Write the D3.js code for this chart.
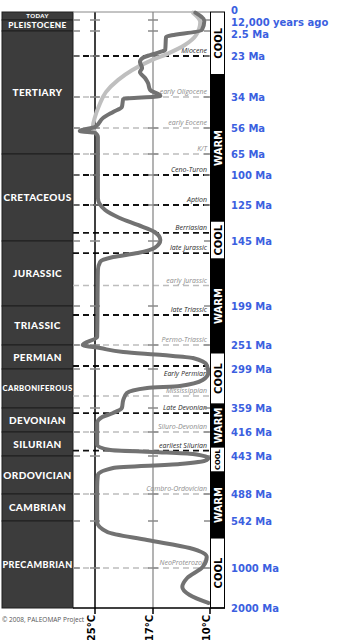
<!DOCTYPE html>
<html><head><meta charset="utf-8">
<script src="https://cdn.jsdelivr.net/npm/d3@7"></script>
<style>body{margin:0;background:#fff}svg{display:block}</style>
</head><body>
<svg id="c" width="353" height="640"></svg>
<script>
// ---------- DATA ----------
const periodNames  = ["TODAY","PLEISTOCENE","TERTIARY","CRETACEOUS","JURASSIC","TRIASSIC","PERMIAN","CARBONIFEROUS","DEVONIAN","SILURIAN","ORDOVICIAN","CAMBRIAN","PRECAMBRIAN"];
const periodStarts = [0,0.012,2.5,65,145,199,251,299,359,416,443,488,542];
const periodEnds   = [0.012,2.5,65,145,199,251,299,359,416,443,488,542,2000];

const ageTicks  = [0,0.012,2.5,23,34,56,65,100,125,145,199,251,299,359,416,443,488,542,1000,2000];
const ageLabels = ["0","12,000 years ago","2.5 Ma","23 Ma","34 Ma","56 Ma","65 Ma","100 Ma","125 Ma","145 Ma","199 Ma","251 Ma","299 Ma","359 Ma","416 Ma","443 Ma","488 Ma","542 Ma","1000 Ma","2000 Ma"];

const eventNames = ["Miocene","early Oligocene","early Eocene","K/T","Ceno-Turon","Aption","Berriasian","late Jurassic","early Jurassic","late Triassic","Permo-Triassic","Early Permian","Mississippian","Late Devonian","Siluro-Devonian","earliest Silurian","Cambro-Ordovician","NeoProterozoic"];
const eventAges  = [23,34,56,65,100,125,140.5,155,182,211,251,293,340.5,371,416,437,488,1000];
const eventMajor = [true,false,false,false,true,true,true,true,false,true,false,true,false,true,false,true,false,false];

const climateStates = ["COOL","WARM","COOL","WARM","COOL","WARM","COOL","WARM","COOL"];
const climateStarts = [0,28,134,160,267,353,433,462,708];
const climateEnds   = [28,134,160,267,353,433,462,708,2000];

const tempTicks  = [25,17,10];
const tempLabels = ["25°C","17°C","10°C"];

// main (dark) curve: age Ma, temperature °C
const mainAges  = [0.001,0.24,2.3,7.4,18.1,19.7,22.2,23.5,24.6,26.2,27.3,28.9,30.2,32.1,33.7,35.4,41.1,44.6,48.9,55.3,57.0,57.7,59.1,70,119.2,127.8,132.2,136.1,140,144.4,150.8,155,158.3,162.4,169.1,240.3,251,257,265,271,277,291,305.2,315.9,325.2,328.2,335.9,346.7,359,370.9,380.4,394.6,430.6,436.3,438.5,440.8,445.4,447.7,452.5,457.2,465.5,479.7,551.7,649.2,727.2,805.1,892.8,990.3,1250,1475,1675,1875];
const mainTemps = [11.8,10.7,11.0,15.4,15.5,16.1,17.4,18.4,18.8,18.5,18.8,18.1,17.7,17.4,16.1,21.1,21.3,22.5,23.9,25.0,27.1,25.0,24.6,24.6,24.6,23.6,21.6,19.1,16.8,16.1,16.8,19.1,22.5,24.3,24.6,24.7,26.7,24.3,21.1,15.8,12.1,10.4,10.2,10.9,13.7,17.8,20.6,21.1,21.3,22.5,24.0,24.7,24.7,22.9,17.0,12.1,10.2,10.4,13.7,22.5,24.6,24.7,24.7,23.3,17.8,12.5,10.4,10.9,12.8,13.4,12.5,10.2];

// light (Cenozoic detail) curve
const lightAges  = [0.001,0.46,5.8,14.0,21.4,24.3,26.8,29.4,32.7,39.7,48.2,55.3,57.4];
const lightTemps = [12.1,11.2,11.7,13.1,15.3,17.4,19.9,21.8,23.5,24.4,25.0,25.3,25.0];

// ---------- LAYOUT ----------
const svg = d3.select("#c");
const colL = 2, colR = 73, barL = 210, barR = 225;
const y = d3.scaleLinear().domain(ageTicks)
  .range([12,20,31,56,97,128,154,175,205,241,306,345,369,408,432,456,494,521,568,608]);
const x = d3.scaleLinear().domain(tempTicks).range([95,153,210]);
const yTop = y(0), yBot = y(2000);

// period column
const pg = svg.append("g");
periodNames.forEach((n,i)=>{
  const y0 = y(periodStarts[i]), y1 = y(periodEnds[i]), h = y1-y0;
  pg.append("rect").attr("x",colL).attr("y",y0).attr("width",colR-colL).attr("height",h)
    .attr("fill","#3c3c3c").attr("stroke","#1e1e1e").attr("stroke-width",1);
  const fs = Math.min(10, h*0.75, 66/(n.length*0.66));
  pg.append("text").attr("x",(colL+colR)/2).attr("y",(y0+y1)/2).attr("dy","0.36em")
    .attr("text-anchor","middle").attr("fill","#fff")
    .attr("font-family","Lato, 'Open Sans', sans-serif").attr("font-weight",900)
    .attr("letter-spacing","0.4px").attr("font-size",fs).text(n);
});

// event dashed lines
const eg = svg.append("g");
eventNames.forEach((n,i)=>{
  const yy = y(eventAges[i]);
  eg.append("line").attr("x1",colR).attr("x2",barL).attr("y1",yy).attr("y2",yy)
    .attr("stroke",eventMajor[i]?"#111":"#bdbdbd").attr("stroke-width",eventMajor[i]?1.8:1.5)
    .attr("stroke-dasharray","6,4");
});

// vertical temperature guide lines
svg.append("line").attr("x1",x(25)).attr("x2",x(25)).attr("y1",yTop).attr("y2",yBot)
  .attr("stroke","#000").attr("stroke-width",1.5);
svg.append("line").attr("x1",x(17)).attr("x2",x(17)).attr("y1",yTop).attr("y2",yBot)
  .attr("stroke","#9a9a9a").attr("stroke-width",1.5);
svg.append("line").attr("x1",colR).attr("x2",barL).attr("y1",yTop).attr("y2",yTop)
  .attr("stroke","#888").attr("stroke-width",1);

// boundary ticks
const tg = svg.append("g").attr("stroke","#8a8a8a").attr("stroke-width",1.5);
ageTicks.slice(1,-1).forEach(a=>{
  const yy = y(a);
  [[colR,colR+7],[x(25)-5,x(25)+5],[x(17)-5,x(17)+5],[barL-6,barL]].forEach(s=>{
    tg.append("line").attr("x1",s[0]).attr("x2",s[1]).attr("y1",yy).attr("y2",yy);
  });
});

// event labels
eventNames.forEach((n,i)=>{
  const yy = y(eventAges[i]);
  const below = n==="Early Permian";
  eg.append("text").attr("x",207).attr("y",below? yy+9.5 : yy-3)
    .attr("text-anchor","end").attr("font-family","'Open Sans', sans-serif")
    .attr("font-style","italic").attr("font-size",7)
    .attr("fill",eventMajor[i]?"#2a2a2a":"#8c8c8c").text(n);
});

// curves
const line = d3.line().x(d=>x(d[1])).y(d=>y(d[0])).curve(d3.curveMonotoneY);
svg.append("path").datum(lightAges.map((a,i)=>[a,lightTemps[i]]))
  .attr("d",line).attr("fill","none").attr("stroke","#bfbfbf").attr("stroke-width",4)
  .attr("stroke-linejoin","round").attr("stroke-linecap","round");
svg.append("path").datum(mainAges.map((a,i)=>[a,mainTemps[i]]))
  .attr("d",line).attr("fill","none").attr("stroke","#727272").attr("stroke-width",4)
  .attr("stroke-linejoin","round").attr("stroke-linecap","round");

// climate bar
const cg = svg.append("g");
climateStates.forEach((s,i)=>{
  const y0 = y(climateStarts[i]), y1 = y(climateEnds[i]), h = y1-y0;
  const warm = s==="WARM";
  cg.append("rect").attr("x",barL+0.5).attr("y",y0).attr("width",barR-barL-1).attr("height",h)
    .attr("fill",warm?"#000":"#fff").attr("stroke","#000").attr("stroke-width",1);
  const fs = Math.min(10,(h-4)/3.1);
  cg.append("text").attr("transform",`translate(${(barL+barR)/2+0.5},${(y0+y1)/2}) rotate(-90)`)
    .attr("text-anchor","middle").attr("dy","0.36em")
    .attr("font-family","'DejaVu Sans', Verdana, sans-serif").attr("font-weight","bold")
    .attr("font-size",fs).attr("fill",warm?"#fff":"#000").text(s);
});

// blue age labels
let prev = -100;
ageLabels.forEach((t,i)=>{
  let yy = i===0 ? y(ageTicks[0])-2 : Math.max(y(ageTicks[i]), prev+12);
  prev = yy;
  svg.append("text").attr("x",231).attr("y",yy).attr("dy","0.36em")
    .attr("font-family","'DejaVu Sans', Verdana, sans-serif").attr("font-weight","bold")
    .attr("font-size",10).attr("fill","#3b5fe0").text(t);
});

// bottom axis
svg.append("line").attr("x1",colR).attr("x2",barR).attr("y1",yBot).attr("y2",yBot)
  .attr("stroke","#000").attr("stroke-width",1.5);
tempTicks.forEach((t,i)=>{
  svg.append("line").attr("x1",x(t)).attr("x2",x(t)).attr("y1",yBot).attr("y2",yBot+6)
    .attr("stroke","#000").attr("stroke-width",1.5);
  svg.append("text").attr("transform",`translate(${x(t)-0.5},${yBot+7}) rotate(-90)`)
    .attr("text-anchor","end").attr("font-family","'DejaVu Sans', Verdana, sans-serif")
    .attr("font-weight","bold").attr("font-size",10).attr("fill","#000").text(tempLabels[i]);
});

svg.append("text").attr("x",2).attr("y",yBot+14).attr("font-family","'Open Sans', sans-serif")
  .attr("font-size",6.5).attr("fill","#555").text("© 2008, PALEOMAP Project");
</script>
</body></html>
